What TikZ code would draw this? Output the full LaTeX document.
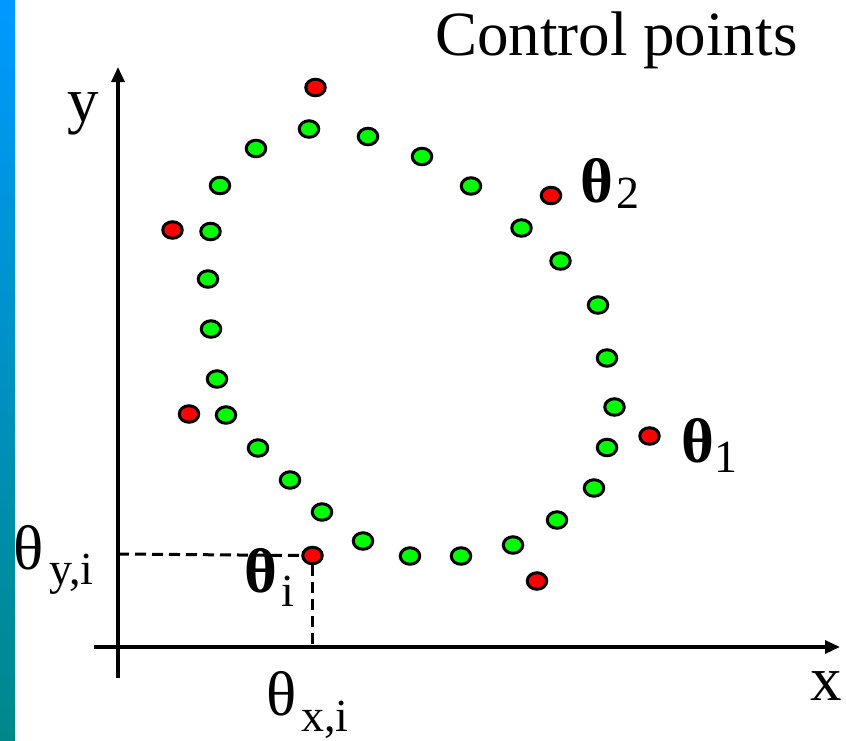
\documentclass[tikz,border=0pt]{standalone}
\usepackage{fontspec}
\setmainfont{Liberation Serif}
\usepackage{tikz}
\usetikzlibrary{shapes.geometric,arrows.meta,positioning}

\definecolor{bartop}{RGB}{0,153,255}
\definecolor{barbot}{RGB}{0,136,136}
\newcommand{\lowsub}[3]{\kern#1pt\raisebox{-#2pt}{\normalfont\fontsize{46}{46}\selectfont #3}}

\begin{document}
\begin{tikzpicture}[x=1pt, y=-1pt,
    dot/.style={ellipse, draw, line width=3pt, minimum width=19.5pt, minimum height=16.5pt, inner sep=0pt},
    ctrl/.style={dot, fill=red},
    knot/.style={dot, fill=green},
    axis/.style={line width=3.2pt, -{Triangle[length=15pt,width=13pt]}},
    guide/.style={line width=3pt, dash pattern=on 11pt off 6pt},
    lbl/.style={inner sep=0pt, anchor=base west, font=\fontsize{63}{63}\selectfont}]
    \useasboundingbox (0,0) rectangle (846,740);
    \shade[top color=bartop, bottom color=barbot] (0,0) rectangle (15,740);

    % axes
    \coordinate (ybot) at (118,678);
    \coordinate (ytop) at (118,67);
    \coordinate (xlft) at (94,647);
    \coordinate (xrgt) at (840,647);
    \draw[axis] (ybot) -- (ytop);
    \draw[axis] (xlft) -- (xrgt);

    % red control points
    \node (ptop) [ctrl] at (315.5,87.5) {};
    \node (p2) [ctrl] at (551,195.5) {};
    \node (pul) [ctrl] at (172.5,230) {};
    \node (pll) [ctrl] at (189,414) {};
    \node (p1) [ctrl] at (649.5,436) {};
    \node (pi) [ctrl] at (312.5,555.5) {};
    \node (plr) [ctrl] at (537,581) {};

    % green curve points
    \node (g1) [knot] at (309,129) {};
    \node (g2) [knot] at (368,136.5) {};
    \node (g3) [knot] at (422,156.5) {};
    \node (g4) [knot] at (471,186) {};
    \node (g5) [knot] at (521.5,228) {};
    \node (g6) [knot] at (560.5,261) {};
    \node (g7) [knot] at (598,305) {};
    \node (g8) [knot] at (607,358) {};
    \node (g9) [knot] at (614.5,407) {};
    \node (g10) [knot] at (607,447.5) {};
    \node (g11) [knot] at (594,488) {};
    \node (g12) [knot] at (557,520) {};
    \node (g13) [knot] at (513,545) {};
    \node (g14) [knot] at (461,556) {};
    \node (g15) [knot] at (410,556) {};
    \node (g16) [knot] at (363,541) {};
    \node (g17) [knot] at (322,512) {};
    \node (g18) [knot] at (290,480) {};
    \node (g19) [knot] at (258,448) {};
    \node (g20) [knot] at (226,415) {};
    \node (g21) [knot] at (217,379) {};
    \node (g22) [knot] at (211,329) {};
    \node (g23) [knot] at (208,279) {};
    \node (g24) [knot] at (210.5,231.5) {};
    \node (g25) [knot] at (220,185.5) {};
    \node (g26) [knot] at (256,148.5) {};

    % projections of theta_i
    \coordinate (yi) at (118,554);
    \draw[guide] (yi) -- (pi.west);
    \draw[guide] (pi.south) -- (pi.south |- xlft);

    % labels
    \node (title) [lbl] at (435,55) {Control points};
    \node (ylab) [lbl] at (67,121) {y};
    \node (xlab) [lbl] at (810,700) {x};
    \node (thyi) [lbl] at (13,569) {θ\lowsub{6}{15}{y,i}};
    \node (thxi) [lbl] at (266,715) {θ\lowsub{5}{16}{x,i}};
    \node (thi) [lbl] at (244,592) {\bfseries θ\lowsub{4}{14}{i}};
    \node (th2) [lbl] at (580,202) {\bfseries θ\lowsub{3}{6}{2}};
    \node (th1) [lbl] at (681,462) {\bfseries θ\lowsub{0}{10}{1}};
\end{tikzpicture}
\end{document}
